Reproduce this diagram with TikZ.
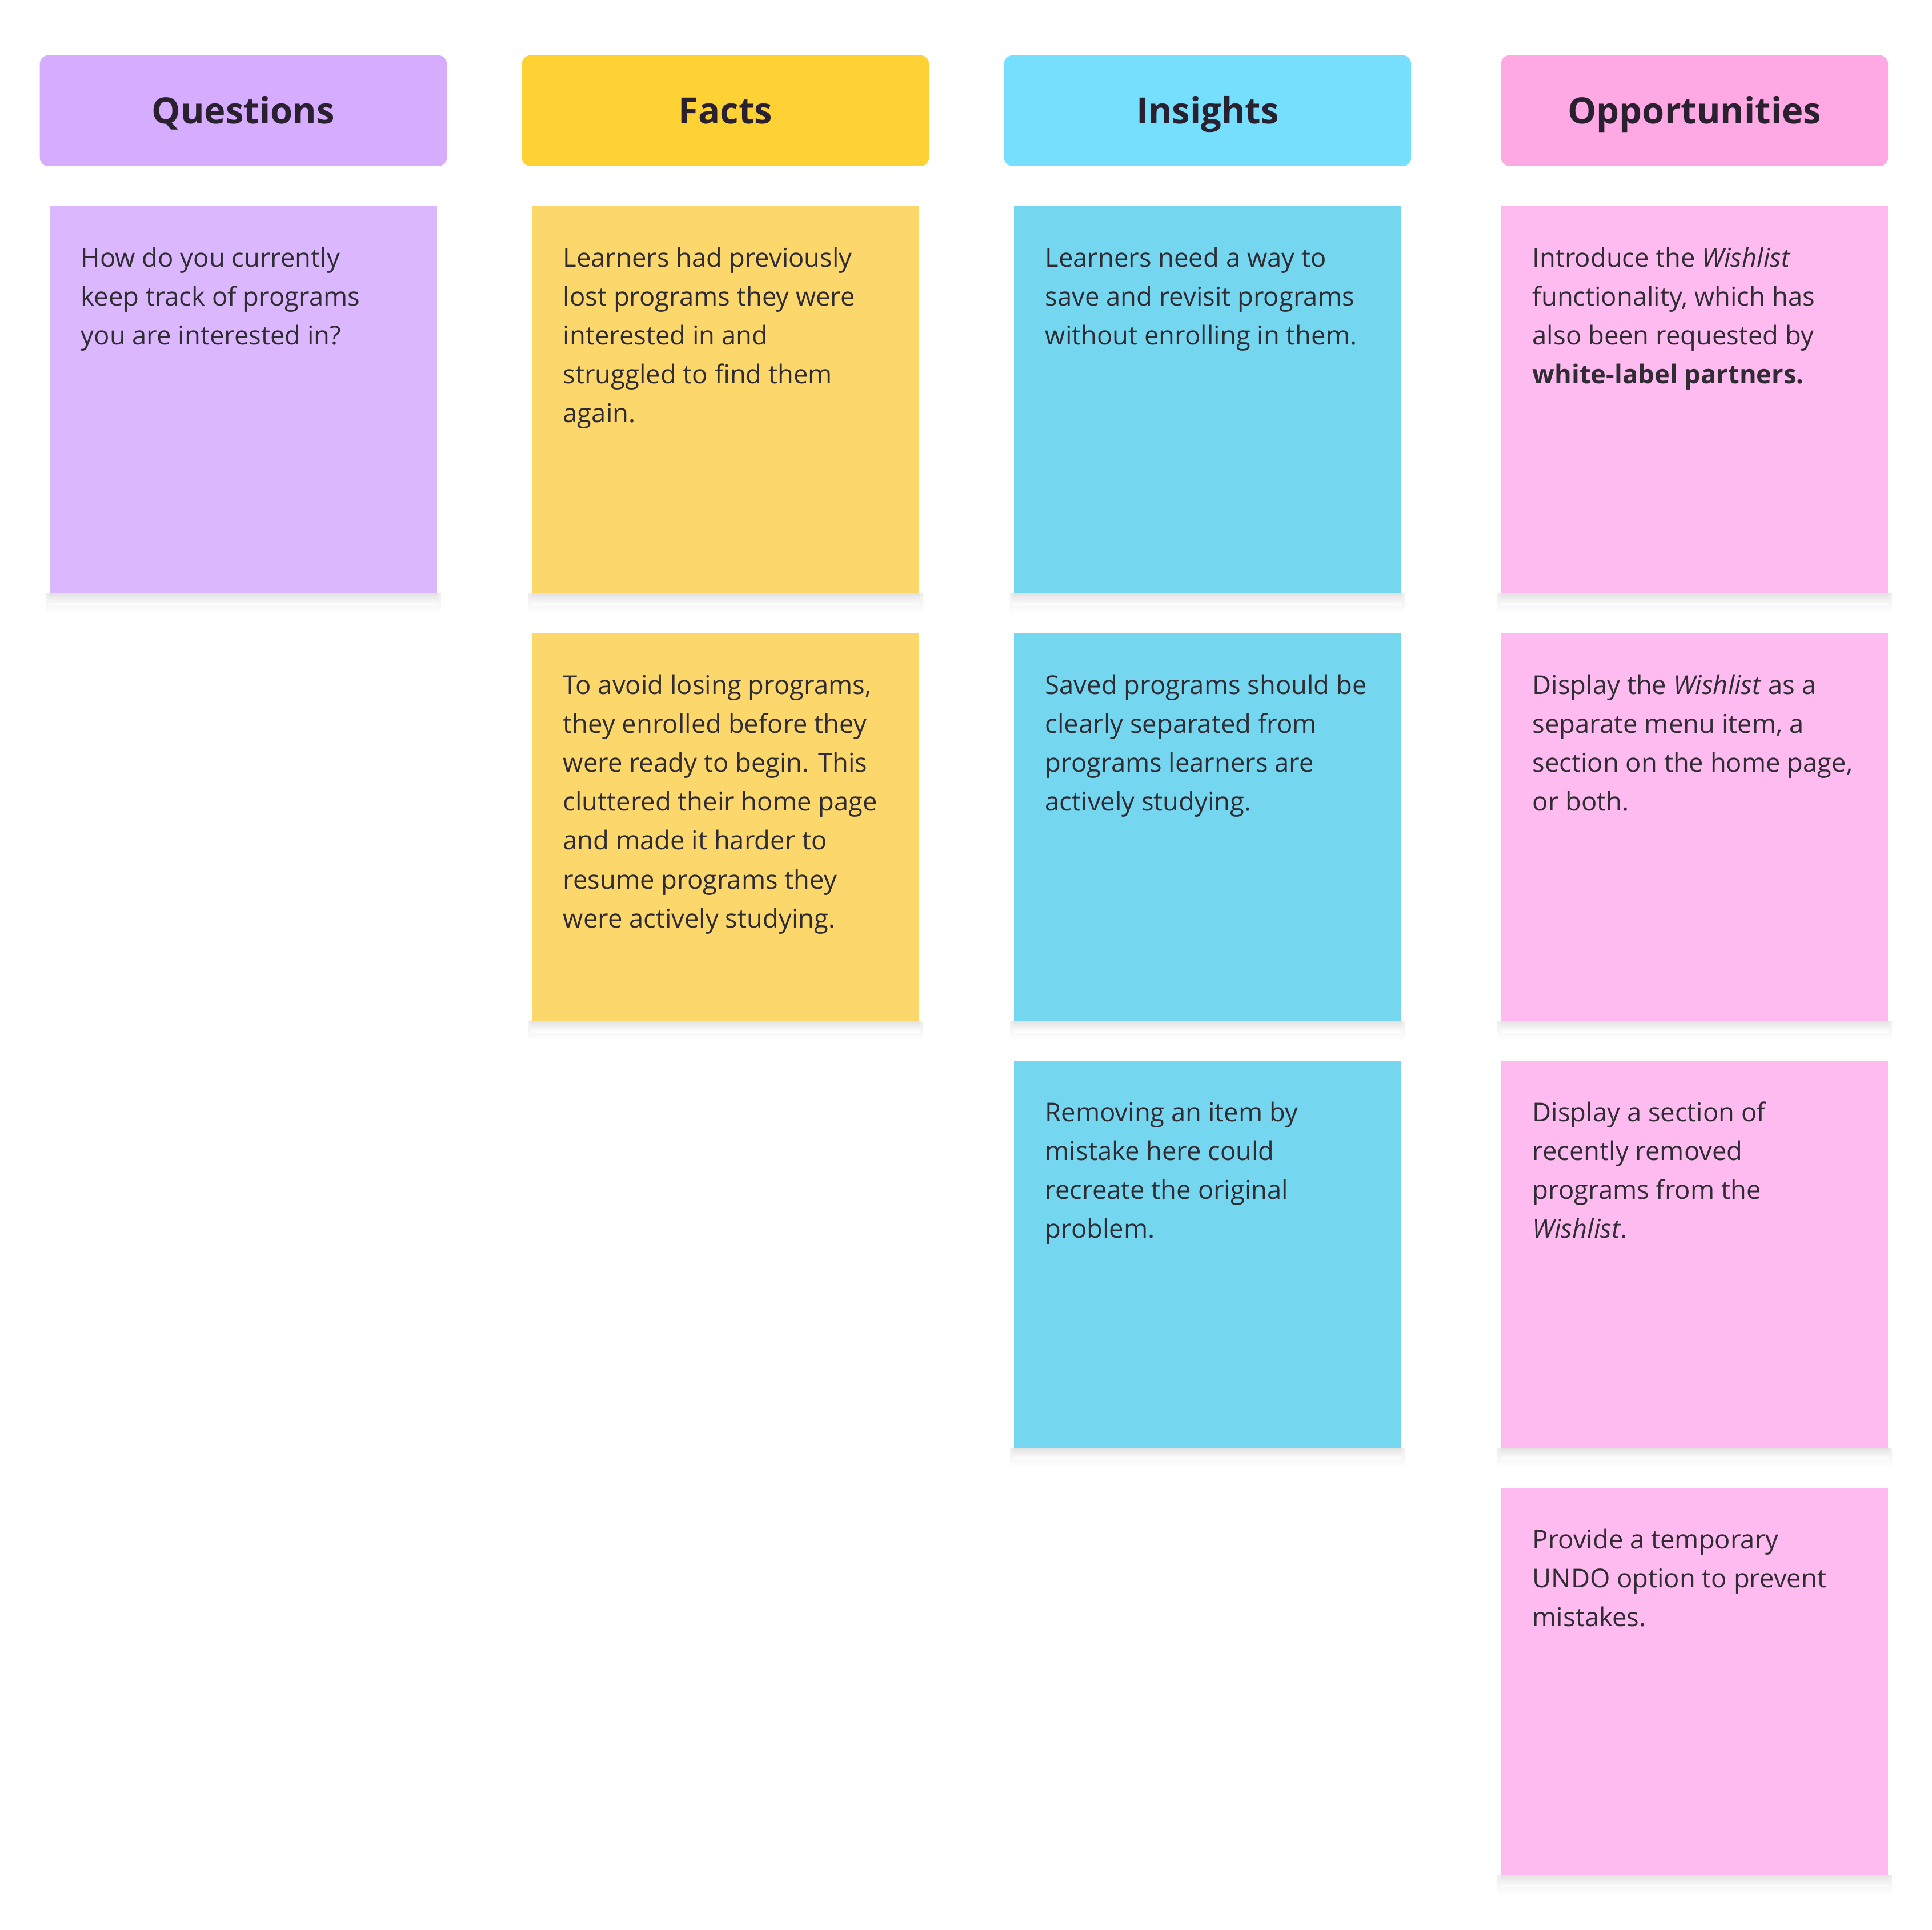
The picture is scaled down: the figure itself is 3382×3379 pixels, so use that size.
\documentclass[tikz,border=0pt]{standalone}
\usepackage{fontspec}
\setmainfont{Open Sans}
\usetikzlibrary{backgrounds}

\definecolor{qhead}{HTML}{D5ACFE}
\definecolor{qcard}{HTML}{DBB8FD}
\definecolor{fhead}{HTML}{FED235}
\definecolor{fcard}{HTML}{FCD76B}
\definecolor{ihead}{HTML}{76DFFE}
\definecolor{icard}{HTML}{74D6EF}
\definecolor{ohead}{HTML}{FEA8E4}
\definecolor{ocard}{HTML}{FDBBEF}
\definecolor{headink}{HTML}{2A2130}
\definecolor{ink}{HTML}{302C34}

\begin{document}
\begin{tikzpicture}[x=0.01cm,y=0.01cm]
            \tikzstyle{every node}+=[inner sep=0pt]
            \tikzstyle{header}=[rectangle, rounded corners=0.15cm, anchor=north west,
                minimum width=7.12cm, minimum height=1.94cm, text height=12.85pt, text depth=0pt,
                font=\fontsize{18}{22}\selectfont\bfseries, text=headink]
            \tikzstyle{sticky}=[rectangle, anchor=north west, minimum width=6.78cm, minimum height=6.78cm]
            \tikzstyle{note}=[anchor=north west, align=left, xshift=0.55cm, yshift=-0.594cm,
                font=\fontsize{12.9}{19.35}\selectfont, text=ink]
            % column headers
            \node [header, fill=qhead] (qh) at (69,-96) {Questions};
            \node [header, fill=fhead] (fh) at (913,-96) {Facts};
            \node [header, fill=ihead] (ih) at (1757,-96) {Insights};
            \node [header, fill=ohead, minimum width=6.77cm] (oh) at (2627,-96) {Opportunities};
            % questions
            \node [sticky, fill=qcard] (q1) at (86,-360) {};
            \node [note] (q1t) at (q1.north west) {\strut How do you currently\\keep track of programs\\you are interested in?};
            % facts
            \node [sticky, fill=fcard] (f1) at (930,-360) {};
            \node [note] (f1t) at (f1.north west) {\strut Learners had previously\\lost programs they were\\interested in and\\struggled to find them\\again.};
            \node [sticky, fill=fcard] (f2) at (930,-1108) {};
            \node [note] (f2t) at (f2.north west) {\strut To avoid losing programs,\\they enrolled before they\\were ready to begin. This\\cluttered their home page\\and made it harder to\\resume programs they\\were actively studying.};
            % insights
            \node [sticky, fill=icard] (i1) at (1774,-360) {};
            \node [note] (i1t) at (i1.north west) {\strut Learners need a way to\\save and revisit programs\\without enrolling in them.};
            \node [sticky, fill=icard] (i2) at (1774,-1108) {};
            \node [note] (i2t) at (i2.north west) {\strut Saved programs should be\\clearly separated from\\programs learners are\\actively studying.};
            \node [sticky, fill=icard] (i3) at (1774,-1856) {};
            \node [note] (i3t) at (i3.north west) {\strut Removing an item by\\mistake here could\\recreate the original\\problem.};
            % opportunities
            \node [sticky, fill=ocard, minimum width=6.77cm] (o1) at (2627,-360) {};
            \node [note] (o1t) at (o1.north west) {\strut Introduce the \textit{Wishlist}\\functionality, which has\\also been requested by\\\textbf{white-label partners.}};
            \node [sticky, fill=ocard, minimum width=6.77cm] (o2) at (2627,-1108) {};
            \node [note] (o2t) at (o2.north west) {\strut Display the \textit{Wishlist} as a\\separate menu item, a\\section on the home page,\\or both.};
            \node [sticky, fill=ocard, minimum width=6.77cm] (o3) at (2627,-1856) {};
            \node [note] (o3t) at (o3.north west) {\strut Display a section of\\recently removed\\programs from the\\\textit{Wishlist}.};
            \node [sticky, fill=ocard, minimum width=6.77cm] (o4) at (2627,-2604) {};
            \node [note] (o4t) at (o4.north west) {\strut Provide a temporary\\UNDO option to prevent\\mistakes.};
            % page and soft shadows under the notes
            \begin{scope}[on background layer]
            \path [fill=white, use as bounding box] (0,0) rectangle (3382,-3379);
            \foreach \c in {q1,f1,f2,i1,i2,i3,o1,o2,o3,o4} {
                \shade [top color=black!7, bottom color=white] ([xshift=-0.06cm]\c.south west) rectangle ([xshift=0.06cm,yshift=-0.34cm]\c.south east);
                \shade [top color=black!11, bottom color=white] (\c.south west) rectangle ([yshift=-0.2cm]\c.south east);
            }
            \end{scope}
\end{tikzpicture}
\end{document}
